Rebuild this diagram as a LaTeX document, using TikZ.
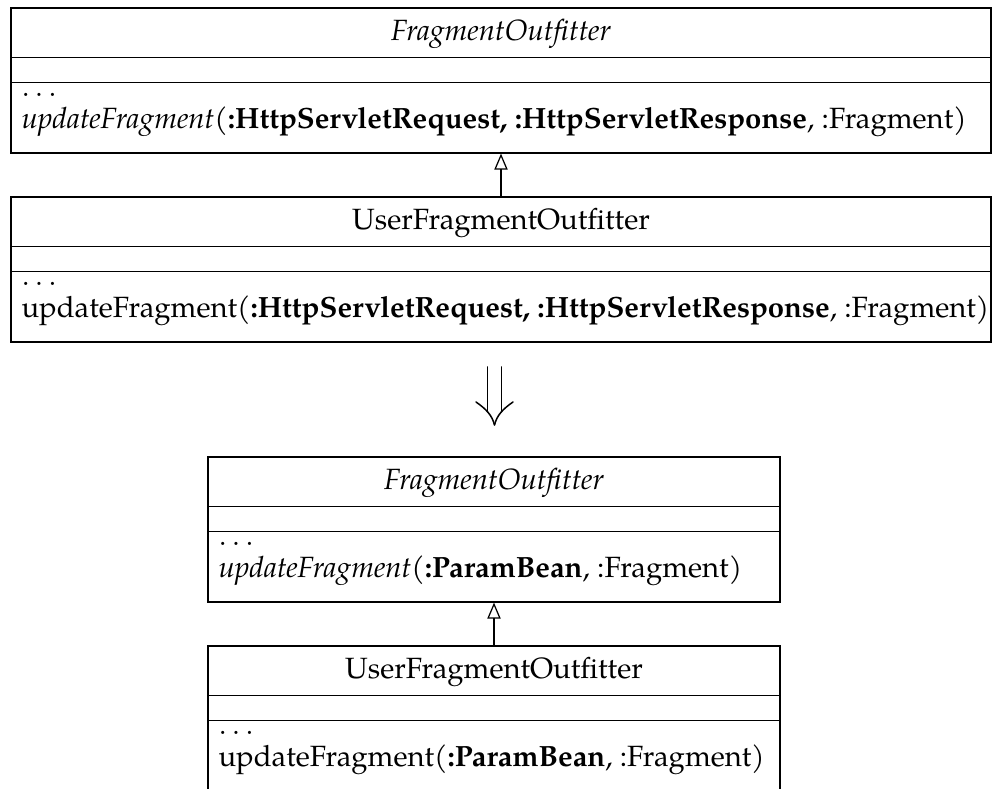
\documentclass[tikz,border=0pt]{standalone}
\usepackage{fontspec}
\setmainfont{TeX Gyre Pagella}
\usetikzlibrary{arrows.meta,calc}
\def\pxu{0.363636pt}
\begin{document}
\begin{tikzpicture}[x=0.363636pt,y=-0.363636pt,
  classbox/.style={draw=black, line width=0.45pt, inner sep=0pt, minimum height={145*\pxu}},
  compart/.style={draw=black, line width=0.45pt},
  cname/.style={anchor=base, inner sep=0pt, font=\fontsize{10.65}{12.8}\selectfont},
  member/.style={anchor=base west, inner sep=0pt, font=\fontsize{10.65}{12.8}\selectfont},
  inherit/.style={draw=black, line width=0.45pt, -{Triangle[open, length=5.8pt, width=4.8pt]}},
  thenarrow/.style={line width=0.55pt, line cap=round}]
\clip (0,0) rectangle (992,789);

% ---- upper pair: HTTP-specific signature ----
\node[classbox, minimum width={980*\pxu}] (fo1) at (501,80.5) {};
\draw[compart] ($(fo1.north west)+(0,50)$) -- ($(fo1.north east)+(0,50)$);
\draw[compart] ($(fo1.north west)+(0,75)$) -- ($(fo1.north east)+(0,75)$);
\node[cname] (fo1name) at (501,41) {\itshape FragmentOutfitter};
\node[member] (fo1dots) at (21,96.5) {$\ldots$};
\node[member] (fo1op) at (21,129) {\textit{updateFragment}(\textbf{:HttpServletRequest, :HttpServletResponse}, :Fragment)};

\node[classbox, minimum width={980*\pxu}] (uf1) at (501,269.5) {};
\draw[compart] ($(uf1.north west)+(0,50)$) -- ($(uf1.north east)+(0,50)$);
\draw[compart] ($(uf1.north west)+(0,75)$) -- ($(uf1.north east)+(0,75)$);
\node[cname] (uf1name) at (501,230) {UserFragmentOutfitter};
\node[member] (uf1dots) at (21,285.5) {$\ldots$};
\node[member] (uf1op) at (21,318) {updateFragment(\textbf{:HttpServletRequest, :HttpServletResponse}, :Fragment)};

\draw[inherit] (uf1.north) -- (fo1.south);

% ---- refactoring step ----
\draw[thenarrow] (487.5,367) -- (487.5,412);
\draw[thenarrow] (501.5,367) -- (501.5,412);
\draw[thenarrow] (476,402) .. controls (486,409) and (492,415) .. (494.5,425);
\draw[thenarrow] (513,402) .. controls (503,409) and (497,415) .. (494.5,425);

% ---- lower pair: parameter bean signature ----
\node[classbox, minimum width={572*\pxu}] (fo2) at (494,529.5) {};
\draw[compart] ($(fo2.north west)+(0,50)$) -- ($(fo2.north east)+(0,50)$);
\draw[compart] ($(fo2.north west)+(0,75)$) -- ($(fo2.north east)+(0,75)$);
\node[cname] (fo2name) at (494,490) {\itshape FragmentOutfitter};
\node[member] (fo2dots) at (218,545.5) {$\ldots$};
\node[member] (fo2op) at (218,578) {\textit{updateFragment}(\textbf{:ParamBean}, :Fragment)};

\node[classbox, minimum width={572*\pxu}] (uf2) at (494,718.5) {};
\draw[compart] ($(uf2.north west)+(0,50)$) -- ($(uf2.north east)+(0,50)$);
\draw[compart] ($(uf2.north west)+(0,75)$) -- ($(uf2.north east)+(0,75)$);
\node[cname] (uf2name) at (494,679) {UserFragmentOutfitter};
\node[member] (uf2dots) at (218,734.5) {$\ldots$};
\node[member] (uf2op) at (218,767) {updateFragment(\textbf{:ParamBean}, :Fragment)};

\draw[inherit] (uf2.north) -- (fo2.south);
\end{tikzpicture}
\end{document}
